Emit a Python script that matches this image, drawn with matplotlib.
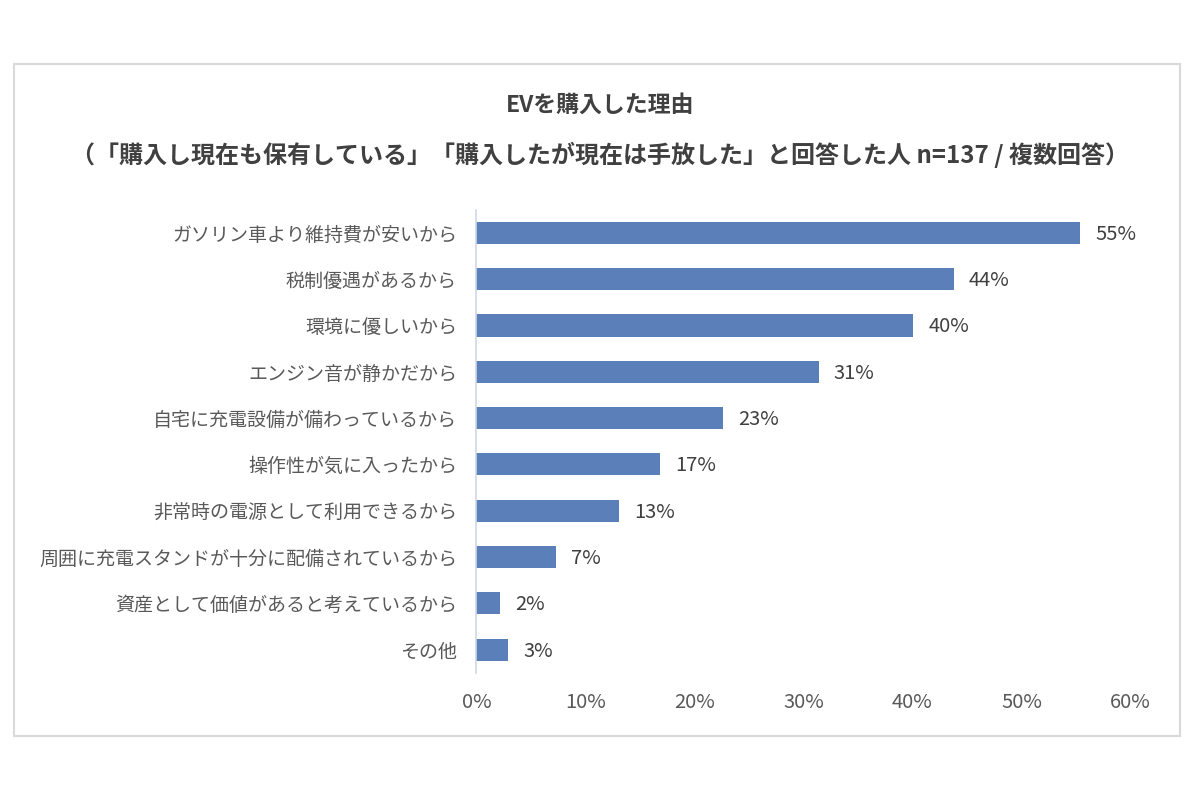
import matplotlib
matplotlib.use('Agg')
import matplotlib.pyplot as plt
from matplotlib.patches import Rectangle
from matplotlib.ticker import FuncFormatter

plt.rcParams['font.family'] = ['Noto Sans CJK JP', 'DejaVu Sans']

# ── data ─────────────────────────────────────────────────────────────────────
reasons = [
    'ガソリン車より維持費が安いから',
    '税制優遇があるから',
    '環境に優しいから',
    'エンジン音が静かだから',
    '自宅に充電設備が備わっているから',
    '操作性が気に入ったから',
    '非常時の電源として利用できるから',
    '周囲に充電スタンドが十分に配備されているから',
    '資産として価値があると考えているから',
    'その他',
]
shares = [55.4, 43.8, 40.1, 31.4, 22.6, 16.8, 13.1, 7.3, 2.2, 2.9]
x_ticks = [0, 10, 20, 30, 40, 50, 60]

title_1 = 'EVを購入した理由'
title_2 = '（「購入し現在も保有している」「購入したが現在は手放した」と回答した人 n=137 / 複数回答）'

# ── plot ─────────────────────────────────────────────────────────────────────
fig = plt.figure(figsize=(12, 8), dpi=100)
ax = fig.add_axes([0.397, 0.159, 0.545, 0.579])

text_col = '#595959'
ypos = list(range(len(reasons)))
ax.barh(ypos, shares, height=0.48, color='#5a7fb9')
for y, v in zip(ypos, shares):
    ax.text(v + 1.4, y + 0.03, f'{round(v):d}%', va='center', ha='left',
            fontsize=14.5, color='#404040')

ax.set_ylim(len(reasons) - 0.5, -0.5)
ax.set_xlim(0, 60)
ax.set_yticks(ypos)
ax.set_yticklabels(reasons, fontsize=13.7, color=text_col)
ax.set_xticks(x_ticks)
ax.xaxis.set_major_formatter(FuncFormatter(lambda v, _: f'{v:.0f}%'))
ax.tick_params(axis='x', labelsize=14.5, labelcolor=text_col, length=0, pad=14)
ax.tick_params(axis='y', length=0, pad=14)

for s in ['top', 'right', 'bottom']:
    ax.spines[s].set_visible(False)
ax.spines['left'].set_color('#d0d7e5')
ax.spines['left'].set_linewidth(1.2)

fig.text(0.5, 1 - 105 / 800, title_1, ha='center', va='center',
         fontsize=16.5, fontweight='bold', color='#404040')
fig.text(0.5, 1 - 155 / 800, title_2, ha='center', va='center',
         fontsize=17.3, fontweight='bold', color='#404040')

fig.patches.append(Rectangle((14 / 1200, 1 - 736 / 800), 1166 / 1200, 672 / 800,
                             transform=fig.transFigure, fill=False,
                             edgecolor='#d9d9d9', linewidth=1.5))

fig.savefig('out.png', dpi=100)
